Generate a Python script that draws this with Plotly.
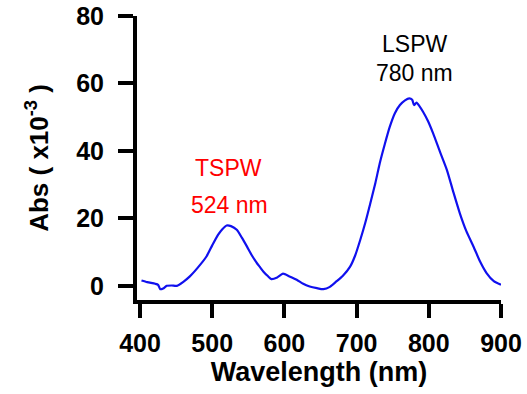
import plotly.graph_objects as go

wavelength = [402, 410, 421, 425, 428, 432, 437, 444, 451, 460, 469, 480, 492, 500, 508, 514, 520, 526, 534, 541, 548, 555, 562, 566, 571, 577, 582, 590, 598, 607, 617, 626, 635, 645, 654, 663, 672, 681, 691, 698, 705, 712, 719, 726, 732, 739, 746, 753, 760, 767, 773, 777, 779.5, 783, 787, 792, 799, 806, 815, 825, 834, 843, 852, 862, 871, 880, 890, 900]
absorb = [1.6, 1.1, 0.6, 0.3, -1.0, -0.8, 0.0, 0.1, 0.0, 1.2, 2.8, 5.4, 8.7, 12.0, 15.1, 16.8, 17.9, 17.7, 16.6, 14.3, 11.7, 9.0, 6.7, 5.6, 4.2, 2.9, 2.0, 2.5, 3.6, 2.8, 1.8, 0.6, -0.2, -0.7, -1.0, -0.3, 1.3, 3.0, 5.7, 9.0, 13.6, 18.7, 24.5, 30.5, 36.3, 42.0, 47.2, 51.2, 53.6, 55.0, 55.6, 55.2, 53.6, 54.3, 53.3, 51.6, 48.8, 45.2, 40.0, 34.4, 27.8, 21.5, 16.2, 11.6, 7.2, 3.8, 1.4, 0.3]

x_ticks = [400, 500, 600, 700, 800, 900]
y_ticks = [0, 20, 40, 60, 80]

FONT = "Liberation Sans, Arial, sans-serif"

fig = go.Figure()
fig.add_trace(go.Scatter(x=wavelength, y=absorb, mode="lines",
                         line=dict(color="#1010ee", width=2.2, shape="spline", smoothing=0.6),
                         showlegend=False, hoverinfo="skip"))

fig.add_annotation(x=779.5, y=71.7, text="LSPW", showarrow=False,
                   font=dict(family=FONT, size=23, color="black"))
fig.add_annotation(x=779.5, y=63.1, text="780 nm", showarrow=False,
                   font=dict(family=FONT, size=23, color="black"))
fig.add_annotation(x=523, y=34.8, text="TSPW", showarrow=False,
                   font=dict(family=FONT, size=23, color="#ff0000"))
fig.add_annotation(x=524, y=23.9, text="524 nm", showarrow=False,
                   font=dict(family=FONT, size=23, color="#ff0000"))

fig.update_layout(
    width=527, height=394,
    margin=dict(l=137, r=26, t=16, b=94),
    plot_bgcolor="white", paper_bgcolor="white",
    font=dict(family=FONT, color="black"),
)
fig.update_xaxes(range=[395.8, 900], tickvals=x_ticks, ticks="outside", ticklen=14, tickwidth=4,
                 tickcolor="black", showline=True, linewidth=4, linecolor="black",
                 showgrid=False, zeroline=False, automargin=False,
                 tickfont=dict(family=FONT, size=25, color="black", weight="bold"),
                 ticklabelstandoff=4,
                 title=dict(text="Wavelength (nm)", font=dict(family=FONT, size=27, color="black", weight="bold"), standoff=4))
fig.update_yaxes(range=[-4.2, 80], tickvals=y_ticks, ticks="outside", ticklen=15, tickwidth=4,
                 tickcolor="black", showline=True, linewidth=4, linecolor="black",
                 showgrid=False, zeroline=False, automargin=False,
                 tickfont=dict(family=FONT, size=25, color="black", weight="bold"),
                 ticklabelstandoff=9,
                 title=dict(text="Abs ( x10<sup>-3</sup> )", font=dict(family=FONT, size=26, color="black", weight="bold"), standoff=21))

fig.write_html("out.html")
